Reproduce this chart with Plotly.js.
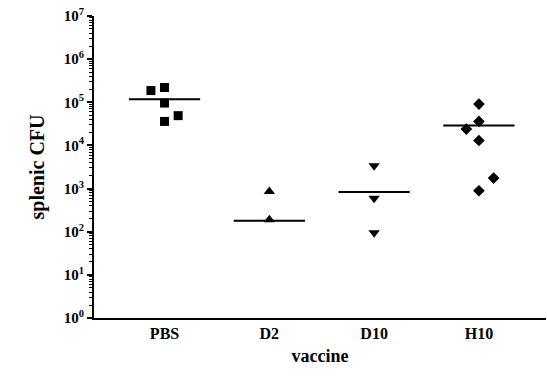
<!DOCTYPE html>
<html>
<head>
<meta charset="utf-8">
<script src="https://cdn.plot.ly/plotly-3.0.1.min.js"></script>
<style>html,body{margin:0;padding:0;background:#fff;}#chart{width:547px;height:376px;}</style>
</head>
<body>
<div id="chart"></div>
<script>
// Categories and values (splenic CFU)
const categories = ["PBS", "D2", "D10", "H10"];
const pbsValues = [187000, 220000, 96000, 36000, 49000];
const d2Values = [850, 190];
const d10Values = [3400, 600, 95];
const h10Values = [91000, 36000, 24000, 13000, 1750, 890];
const meanValues = [118000, 180, 830, 29000];
// horizontal scatter offsets (category units) for visibility
const pbsJitter = [-0.13, 0, 0, 0, 0.13];
const d2Jitter = [0, 0];
const d10Jitter = [0, 0, 0];
const h10Jitter = [0, 0, -0.12, 0, 0.14, 0];
const yTickVals = [1, 10, 100, 1000, 10000, 100000, 1000000, 10000000];
const yTickText = ["10<sup>0</sup>", "10<sup>1</sup>", "10<sup>2</sup>", "10<sup>3</sup>", "10<sup>4</sup>", "10<sup>5</sup>", "10<sup>6</sup>", "10<sup>7</sup>"];

const serif = "Liberation Serif, Times New Roman, serif";
const groups = [
  {vals: pbsValues, jit: pbsJitter, symbol: "square", size: 9},
  {vals: d2Values, jit: d2Jitter, symbol: "triangle-up", size: 10},
  {vals: d10Values, jit: d10Jitter, symbol: "triangle-down", size: 10},
  {vals: h10Values, jit: h10Jitter, symbol: "diamond", size: 9}
];
const traces = [];
groups.forEach((g, i) => {
  traces.push({
    type: "scatter", mode: "lines",
    x: [i - 0.34, i + 0.34],
    y: [meanValues[i], meanValues[i]],
    line: {color: "black", width: 2},
    hoverinfo: "skip", showlegend: false
  });
});
groups.forEach((g, i) => {
  traces.push({
    type: "scatter", mode: "markers",
    x: g.vals.map((v, k) => i + g.jit[k]),
    y: g.vals,
    marker: {symbol: g.symbol, size: g.size, color: "black"},
    hoverinfo: "y", showlegend: false
  });
});

const layout = {
  width: 547, height: 376,
  margin: {l: 94, r: 1, t: 16, b: 58},
  paper_bgcolor: "white", plot_bgcolor: "white",
  font: {family: serif, color: "black"},
  xaxis: {
    range: [-0.673, 3.64],
    tickmode: "array", tickvals: [0, 1, 2, 3], ticktext: categories.map(c => "<b>" + c + "</b>"),
    showgrid: false, zeroline: false,
    showline: true, linecolor: "black", linewidth: 2,
    ticks: "",
    tickfont: {family: serif, size: 16},
    title: {text: "<b>vaccine</b>", font: {family: serif, size: 18}, standoff: 8}
  },
  yaxis: {
    type: "log", range: [0, 7],
    tickmode: "array", tickvals: yTickVals, ticktext: yTickText.map(t => "<b>" + t + "</b>"),
    showgrid: false, zeroline: false,
    showline: true, linecolor: "black", linewidth: 2,
    ticks: "outside", ticklen: 5, tickwidth: 2, tickcolor: "black",
    minor: {ticks: "outside", ticklen: 3, tickwidth: 1, tickcolor: "black", dtick: "D1", showgrid: false},
    tickfont: {family: serif, size: 15},
    title: {text: "<b>splenic CFU</b>", font: {family: serif, size: 20}, standoff: 14}
  }
};
Plotly.newPlot("chart", traces, layout, {displayModeBar: false, staticPlot: true});
</script>
</body>
</html>
